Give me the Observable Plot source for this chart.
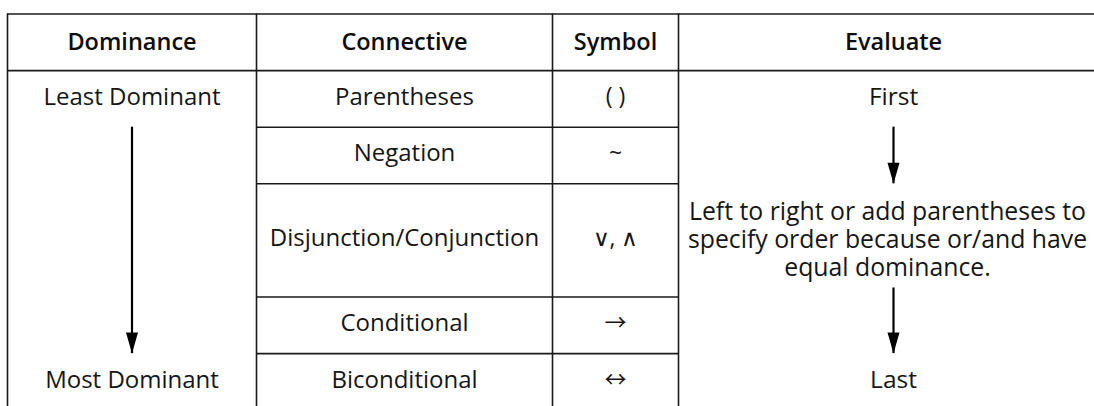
<!DOCTYPE html>
<html>
<head>
<meta charset="utf-8">
<script src="https://cdn.jsdelivr.net/npm/d3@7"></script>
<script src="https://cdn.jsdelivr.net/npm/@observablehq/plot@0.6"></script>
<style>
  html, body { margin: 0; padding: 0; background: #fff; overflow: hidden; }
  #chart { width: 1094px; height: 406px; overflow: hidden; }
</style>
</head>
<body>
<div id="chart"></div>
<script>
// ---- data ----
const headers = ["Dominance", "Connective", "Symbol", "Evaluate"];
const connectives = ["Parentheses", "Negation", "Disjunction/Conjunction", "Conditional", "Biconditional"];
const symbols = ["( )", "~", "∨, ∧", "→", "↔"];
const rowSpans = [1, 1, 2, 1, 1];
const dominance = ["Least Dominant", "Most Dominant"];
const evaluate = ["First", "Left to right or add parentheses to\nspecify order because or/and have\nequal dominance.", "Last"];

// ---- layout (grid units) ----
const colWidths = [249, 296, 126, 430];
const tableLeft = 7;
const edges = [tableLeft];
colWidths.forEach(w => edges.push(edges[edges.length - 1] + w));
const centers = colWidths.map((w, i) => edges[i] + w / 2);

// row boundaries in row units (header = 0..1)
const rowEdges = [1];
rowSpans.forEach(s => rowEdges.push(rowEdges[rowEdges.length - 1] + s));
const rowCenters = rowSpans.map((s, i) => rowEdges[i] + s / 2);
const nRows = rowEdges[rowEdges.length - 1];

const headerCells = headers.map((h, i) => ({text: h, x: centers[i], y: 0.5}));
const connCells = connectives.map((c, i) => ({text: c, x: centers[1], y: rowCenters[i]}));
const symCells = symbols.map((s, i) => ({text: s, x: centers[2], y: rowCenters[i], arrowGlyph: i >= 3}));
const domCells = [
  {text: dominance[0], x: centers[0], y: rowCenters[0]},
  {text: dominance[1], x: centers[0], y: rowCenters[rowCenters.length - 1]}
];
const evalCells = [
  {text: evaluate[0], x: centers[3], y: rowCenters[0]},
  {text: evaluate[2], x: centers[3], y: rowCenters[rowCenters.length - 1]}
];
const evalNote = [{text: evaluate[1], x: centers[3] - 6, y: rowCenters[2]}];

// horizontal lines
const hFull = [0, 1].map(y => ({y, x1: edges[0], x2: edges[edges.length - 1]}));
const hInner = rowEdges.slice(1, -1).map(y => ({y, x1: edges[1], x2: edges[3]}));
// vertical lines
const vLines = edges.slice(0, 4).map(x => ({x, y1: 0, y2: nRows}));

// arrows: shaft from / to in row units
const arrows = [
  {x: centers[0], y1: rowEdges[1], y2: rowEdges[4]},
  {x: centers[3], y1: rowEdges[1], y2: rowEdges[2]},
  {x: centers[3], y1: rowEdges[3] - 0.16, y2: rowEdges[4]}
];

const headSymbol = {
  draw(ctx) {
    ctx.moveTo(0, 0);
    ctx.lineTo(-6, -21);
    ctx.lineTo(6, -21);
    ctx.closePath();
  }
};

const font = "'Open Sans', 'Noto Sans', sans-serif";
const ink = "#1a1a1a";
const txt = "#161616";

const chart = Plot.plot({
  width: 1094,
  height: 406,
  margin: 0,
  x: {type: "linear", domain: [0, 1094], range: [0, 1094], axis: null},
  y: {type: "linear", domain: [0, nRows], range: [13.5, 13.5 + nRows * 56.6], axis: null},
  style: {fontFamily: font, background: "#fff", overflow: "hidden"},
  marks: [
    Plot.ruleY(hFull, {y: "y", x1: "x1", x2: "x2", stroke: ink, strokeWidth: 1.6}),
    Plot.ruleY(hInner, {y: "y", x1: "x1", x2: "x2", stroke: ink, strokeWidth: 1.6}),
    Plot.ruleX(vLines, {x: "x", y1: "y1", y2: "y2", stroke: ink, strokeWidth: 1.6}),
    Plot.ruleX(arrows, {x: "x", y1: "y1", y2: "y2", stroke: "#000", strokeWidth: 2.2}),
    Plot.dot(arrows, {x: "x", y: "y2", symbol: headSymbol, r: 5, fill: "#000", stroke: null}),
    Plot.text(headerCells, {x: "x", y: "y", text: "text", fontSize: 23.5, fontWeight: 600, fill: "#0d0d0d"}),
    Plot.text(connCells, {x: "x", y: "y", text: "text", fontSize: 24, fill: txt, dy: -2}),
    Plot.text(symCells.filter(d => !d.arrowGlyph), {x: "x", y: "y", text: "text", fontSize: 23, fill: txt, dy: -2}),
    Plot.text(symCells.filter(d => d.arrowGlyph), {x: "x", y: "y", text: "text", fontSize: 22, fontFamily: "'Noto Sans CJK SC', 'DejaVu Sans'", fill: txt, dy: -2}),
    Plot.text(domCells, {x: "x", y: "y", text: "text", fontSize: 24, fill: txt, dy: -2}),
    Plot.text(evalCells, {x: "x", y: "y", text: "text", fontSize: 24.5, fill: txt, dy: -2}),
    Plot.text(evalNote, {x: "x", y: "y", text: "text", fontSize: 24.8, lineHeight: 1.13, fill: txt, dy: -1.5})
  ]
});
document.getElementById("chart").append(chart);
</script>
</body>
</html>
